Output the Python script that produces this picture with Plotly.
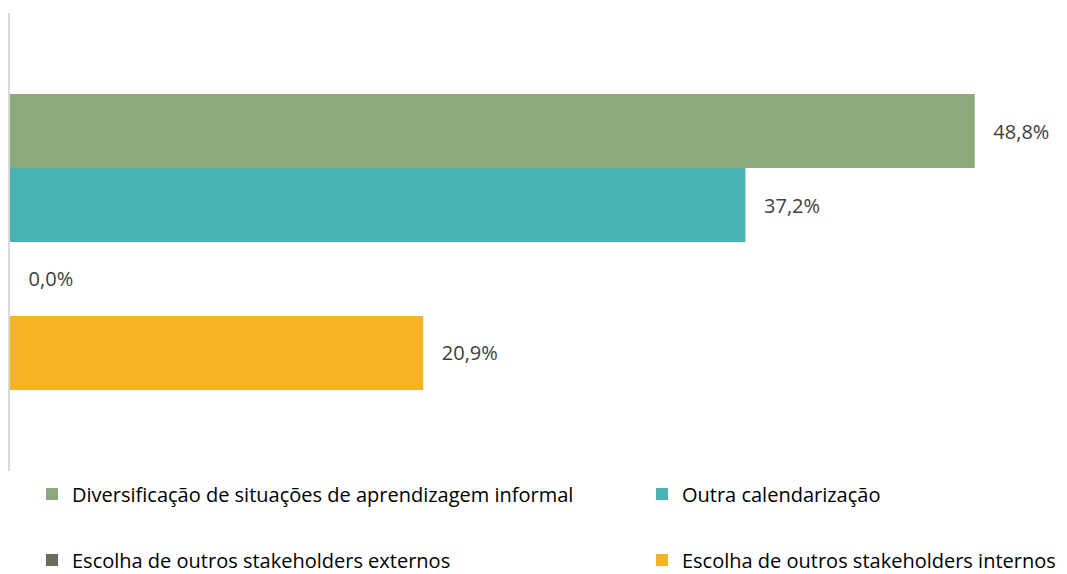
import plotly.graph_objects as go

series = [
    "Diversificação de situações de aprendizagem informal",
    "Outra calendarização",
    "Escolha de outros stakeholders externos",
    "Escolha de outros stakeholders internos",
]
values = [48.8, 37.2, 0.0, 20.9]
colors = ["#8DAA7D", "#48B2B5", "#6B6C5C", "#F6B325"]
legend_ids = ["legend", "legend2", "legend3", "legend4"]
legend_pos = [(0.0210, -0.0502), (0.6036, -0.0502), (0.0210, -0.1943), (0.6036, -0.1943)]
category = [""]

FONT = "'Open Sans', Lato, sans-serif"
FS = 20

fig = go.Figure()
for name, v, c, lg in zip(series, values, colors, legend_ids):
    fig.add_trace(go.Bar(
        y=category, x=[v], name=name, orientation="h",
        marker=dict(color=c, line=dict(width=0)),
        text=[v], texttemplate="   %{x:.1f}%", textposition="outside",
        textfont=dict(family=FONT, size=FS, color="#404040"),
        cliponaxis=False, legend=lg,
    ))

legends = {}
for lg, (lx, ly) in zip(legend_ids, legend_pos):
    legends[lg] = dict(orientation="h", x=lx, xanchor="left", y=ly, yanchor="middle",
                       font=dict(family=FONT, size=FS, color="#000000"),
                       bgcolor="rgba(0,0,0,0)", borderwidth=0,
                       itemclick=False, itemdoubleclick=False)

fig.update_layout(
    width=1067, height=574,
    margin=dict(l=10, r=10, t=13, b=103, autoexpand=False),
    paper_bgcolor="white", plot_bgcolor="white",
    barmode="group", bargap=0.354, bargroupgap=0,
    separators=",.",
    font=dict(family=FONT, size=FS, color="#000000"),
    xaxis=dict(range=[0, 52.96], visible=False, fixedrange=True),
    yaxis=dict(autorange="reversed", showticklabels=False, showgrid=False,
               showline=True, linecolor="#D9D9D9", linewidth=1.5, ticks="",
               zeroline=False, fixedrange=True),
    showlegend=True,
    **legends,
)

fig.write_html("out.html",
               config={"displayModeBar": False},
               post_script="document.body.style.margin='0';document.body.style.overflow='hidden';")
